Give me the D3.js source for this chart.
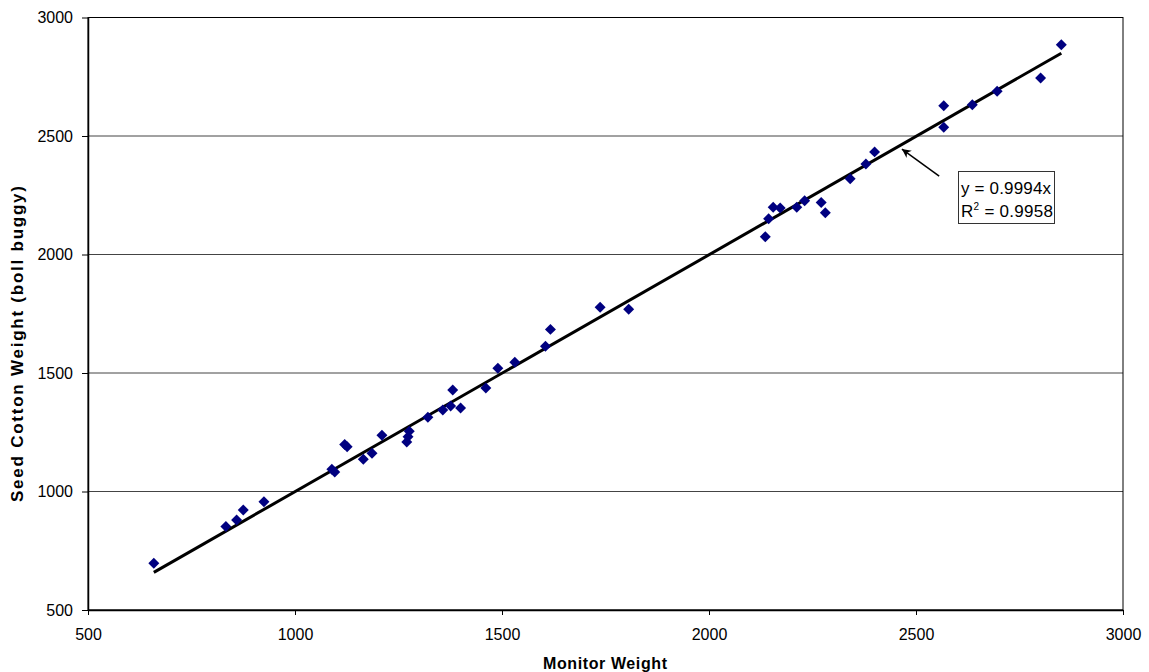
<!DOCTYPE html>
<html>
<head>
<meta charset="utf-8">
<script src="https://cdn.jsdelivr.net/npm/d3@7"></script>
<style>
  body { margin: 0; background: #fff; }
  text { font-family: "Liberation Sans", Arial, sans-serif; fill: #000; }
</style>
</head>
<body>
<div id="chart"></div>
<script>
// monitor weight (x) vs seed cotton weight from boll buggy (y)
const monitorWeight = [659, 833, 859, 875, 925, 1089, 1096, 1120, 1126, 1165, 1186, 1210, 1270, 1273, 1276,
  1321, 1357, 1376, 1381, 1400, 1461, 1490, 1531, 1605, 1617, 1737, 1806,
  2136, 2144, 2155, 2172, 2212, 2231, 2271, 2281, 2341, 2379, 2400,
  2567, 2567, 2636, 2696, 2801, 2851];
const seedCotton = [697, 852, 880, 922, 957, 1094, 1082, 1198, 1189, 1136, 1161, 1237, 1209, 1231, 1254,
  1313, 1344, 1361, 1428, 1352, 1437, 1520, 1545, 1613, 1684, 1777, 1769,
  2075, 2151, 2199, 2196, 2199, 2227, 2219, 2176, 2320, 2382, 2433,
  2628, 2537, 2632, 2689, 2745, 2885];
const xTicks = [500, 1000, 1500, 2000, 2500, 3000];
const yTicks = [500, 1000, 1500, 2000, 2500, 3000];
const slope = 0.9994;
const rSquared = 0.9958;
// arrow of the trendline label, in data units: [tail, tip]
const arrowPts = [[2556, 2331], [2466, 2445]];

const width = 1149, height = 672;
const pLeft = 88, pRight = 1123, pTop = 17.5, pBottom = 610;

const svg = d3.select('#chart').append('svg')
  .attr('width', width)
  .attr('height', height);

const x = d3.scaleLinear().domain([500, 3000]).range([pLeft, pRight]);
const y = d3.scaleLinear().domain([500, 3000]).range([pBottom, pTop]);

// horizontal grid
svg.append('g')
  .selectAll('line')
  .data(yTicks)
  .enter().append('line')
  .attr('x1', pLeft).attr('x2', pRight)
  .attr('y1', d => y(d)).attr('y2', d => y(d))
  .attr('stroke', '#444')
  .attr('stroke-width', 1);

// frame
svg.append('rect')
  .attr('x', pLeft).attr('y', pTop)
  .attr('width', pRight - pLeft).attr('height', pBottom - pTop)
  .attr('fill', 'none')
  .attr('stroke', '#000')
  .attr('stroke-width', 1);

// axes
const fmt = d3.format('d');
const xAxis = svg.append('g')
  .attr('transform', `translate(0,${pBottom})`)
  .call(d3.axisBottom(x).tickValues(xTicks).tickFormat(fmt).tickSize(5).tickPadding(5).tickSizeOuter(0));
const yAxis = svg.append('g')
  .attr('transform', `translate(${pLeft},0)`)
  .call(d3.axisLeft(y).tickValues(yTicks).tickFormat(fmt).tickSize(6).tickPadding(9).tickSizeOuter(0));

[xAxis, yAxis].forEach(g => {
  g.select('.domain').attr('stroke', '#000').attr('stroke-width', 1.5);
  g.selectAll('.tick line').attr('stroke', '#000');
  g.selectAll('.tick text')
    .style('font-family', '"Liberation Sans", Arial, sans-serif')
    .style('font-size', '16px')
    .attr('fill', '#000');
});
xAxis.selectAll('.tick text').attr('dy', '1.25em');

// trendline through origin
const xExt = d3.extent(monitorWeight);
const line = d3.line().x(d => x(d)).y(d => y(slope * d));
svg.append('path')
  .attr('d', line(xExt))
  .attr('stroke', '#000')
  .attr('stroke-width', 3)
  .attr('fill', 'none');

// points
const diamond = d3.symbol().type(d3.symbolSquare).size(60);
svg.append('g')
  .selectAll('path')
  .data(monitorWeight.map((d, i) => [d, seedCotton[i]]))
  .enter().append('path')
  .attr('d', diamond)
  .attr('transform', d => `translate(${x(d[0])},${y(d[1])}) rotate(45)`)
  .attr('fill', '#000080');

// trendline label
svg.append('defs').append('marker')
  .attr('id', 'head')
  .attr('viewBox', '0 0 10 10')
  .attr('refX', 10).attr('refY', 5)
  .attr('markerWidth', 11).attr('markerHeight', 9)
  .attr('markerUnits', 'userSpaceOnUse')
  .attr('orient', 'auto')
  .append('path')
  .attr('d', 'M0,0 L10,5 L0,10 L3,5 Z')
  .attr('fill', '#000');

svg.append('line')
  .attr('x1', x(arrowPts[0][0])).attr('y1', y(arrowPts[0][1]))
  .attr('x2', x(arrowPts[1][0])).attr('y2', y(arrowPts[1][1]))
  .attr('stroke', '#000')
  .attr('stroke-width', 1.5)
  .attr('marker-end', 'url(#head)');

svg.append('rect')
  .attr('x', 958.5).attr('y', 171.5)
  .attr('width', 96).attr('height', 52)
  .attr('fill', '#fff')
  .attr('stroke', '#333')
  .attr('stroke-width', 1);

svg.append('text')
  .attr('x', 961).attr('y', 194)
  .style('font-size', '17px')
  .attr('textLength', 90)
  .text(`y = ${slope}x`);

const r2 = svg.append('text')
  .attr('x', 961).attr('y', 217)
  .style('font-size', '17px')
  .attr('textLength', 92);
r2.append('tspan').text('R');
r2.append('tspan').attr('dy', -7).style('font-size', '10px').text('2');
r2.append('tspan').attr('dy', 7).text(` = ${rSquared}`);

// axis titles
svg.append('text')
  .attr('x', 605).attr('y', 669)
  .attr('text-anchor', 'middle')
  .style('font-size', '16px')
  .style('font-weight', 'bold')
  .attr('textLength', 124)
  .text('Monitor Weight');

svg.append('text')
  .attr('transform', 'translate(23,344) rotate(-90)')
  .attr('text-anchor', 'middle')
  .style('font-size', '17px')
  .style('font-weight', 'bold')
  .attr('textLength', 316)
  .text('Seed Cotton Weight (boll buggy)');
</script>
</body>
</html>
